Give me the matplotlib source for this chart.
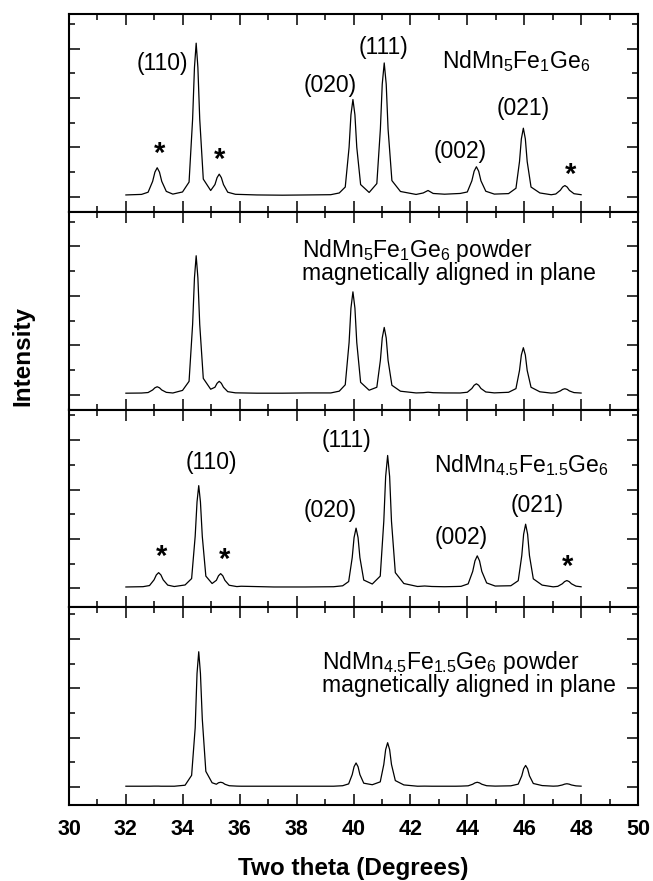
import matplotlib
matplotlib.use("Agg")
import matplotlib.pyplot as plt
from matplotlib.ticker import MultipleLocator

plt.rcParams['font.family'] = ['Liberation Sans', 'DejaVu Sans']
plt.rcParams['mathtext.default'] = 'regular'

# ---------------- data ----------------
# two-theta sample points, panels 1 & 2 (NdMn5Fe1Ge6)
theta_a = [32.00, 32.55, 32.78, 32.94, 33.02, 33.10, 33.18, 33.26, 33.42, 33.65,
           33.99, 34.22, 34.345, 34.41, 34.47, 34.53, 34.595, 34.72,
           34.98, 35.13, 35.205, 35.28, 35.355, 35.43, 35.58, 35.85,
           36.6, 37.5, 38.4, 39.2,
           39.50, 39.71, 39.845, 39.91, 39.98, 40.05, 40.115, 40.25,
           40.55, 40.82, 40.945, 41.01, 41.08, 41.15, 41.215, 41.35, 41.65,
           42.2, 42.45, 42.62, 42.8, 43.2,
           43.75, 44.0, 44.16, 44.24, 44.32, 44.40, 44.48, 44.65, 44.95,
           45.45, 45.71, 45.835, 45.90, 45.97, 46.04, 46.105, 46.24, 46.55,
           46.95, 47.11, 47.27, 47.35, 47.43, 47.51, 47.59, 47.75, 48.00]

# panel 1: NdMn5Fe1Ge6
int_1 = [0.04, 0.051, 0.095, 0.315, 0.502, 0.59, 0.502, 0.315, 0.112, 0.057,
         0.10, 0.30, 1.575, 2.62, 3.11, 2.62, 1.575, 0.36,
         0.13, 0.25, 0.39, 0.46, 0.39, 0.25, 0.095, 0.053,
         0.04, 0.035, 0.04, 0.045,
         0.08, 0.20, 1.005, 1.66, 1.97, 1.66, 1.005, 0.25,
         0.09, 0.27, 1.375, 2.28, 2.71, 2.28, 1.375, 0.33, 0.11,
         0.05, 0.08, 0.13, 0.07, 0.055,
         0.07, 0.10, 0.325, 0.52, 0.61, 0.52, 0.325, 0.115, 0.057,
         0.067, 0.175, 0.715, 1.174, 1.39, 1.174, 0.715, 0.20, 0.08,
         0.044, 0.059, 0.135, 0.2, 0.23, 0.2, 0.135, 0.065, 0.045]

# panel 2: NdMn5Fe1Ge6 powder aligned
int_2 = [0.03, 0.033, 0.043, 0.095, 0.139, 0.16, 0.139, 0.095, 0.047, 0.034,
         0.086, 0.27, 1.42, 2.365, 2.81, 2.365, 1.42, 0.33,
         0.11, 0.15, 0.23, 0.27, 0.23, 0.15, 0.061, 0.037,
         0.03, 0.03, 0.035, 0.035,
         0.071, 0.20, 1.055, 1.75, 2.08, 1.75, 1.055, 0.25,
         0.09, 0.15, 0.695, 1.147, 1.36, 1.147, 0.695, 0.19, 0.07,
         0.035, 0.04, 0.05, 0.04, 0.035,
         0.034, 0.049, 0.125, 0.19, 0.22, 0.19, 0.125, 0.055, 0.036,
         0.048, 0.122, 0.49, 0.803, 0.95, 0.803, 0.49, 0.15, 0.058,
         0.032, 0.039, 0.075, 0.106, 0.12, 0.106, 0.075, 0.042, 0.033]

# two-theta sample points, panels 3 & 4 (NdMn4.5Fe1.5Ge6)
theta_b = [32.00, 32.60, 32.83, 32.99, 33.07, 33.15, 33.23, 33.31, 33.47, 33.70,
           34.08, 34.31, 34.435, 34.50, 34.56, 34.62, 34.685, 34.81,
           35.03, 35.18, 35.255, 35.33, 35.405, 35.48, 35.63, 35.90,
           36.05, 37.2, 38.3, 39.3,
           39.62, 39.83, 39.955, 40.02, 40.09, 40.16, 40.225, 40.36,
           40.66, 40.94, 41.065, 41.13, 41.20, 41.27, 41.335, 41.47, 41.77,
           42.25, 42.5, 42.75, 43.2, 43.6,
           43.78, 44.03, 44.19, 44.27, 44.35, 44.43, 44.51, 44.68, 44.98,
           45.53, 45.79, 45.915, 45.98, 46.05, 46.12, 46.185, 46.32, 46.63,
           47.02, 47.18, 47.34, 47.42, 47.50, 47.58, 47.66, 47.82, 48.00]

# panel 3: NdMn4.5Fe1.5Ge6
int_3 = [0.03, 0.036, 0.059, 0.175, 0.274, 0.32, 0.274, 0.175, 0.068, 0.039,
         0.071, 0.20, 1.055, 1.75, 2.08, 1.75, 1.055, 0.25,
         0.10, 0.165, 0.257, 0.30, 0.257, 0.165, 0.065, 0.038,
         0.045, 0.03, 0.03, 0.035,
         0.054, 0.14, 0.625, 1.03, 1.22, 1.03, 0.625, 0.17,
         0.09, 0.25, 1.36, 2.264, 2.69, 2.264, 1.36, 0.32, 0.10,
         0.04, 0.05, 0.04, 0.035, 0.04,
         0.043, 0.093, 0.345, 0.559, 0.66, 0.559, 0.345, 0.112, 0.049,
         0.055, 0.157, 0.665, 1.097, 1.30, 1.097, 0.665, 0.195, 0.068,
         0.033, 0.043, 0.095, 0.139, 0.16, 0.139, 0.095, 0.047, 0.034]

# panel 4: NdMn4.5Fe1.5Ge6 powder aligned
int_4 = [0.02, 0.02, 0.02, 0.022, 0.022, 0.022, 0.02, 0.02, 0.02, 0.02,
         0.04, 0.24, 1.2, 2.3, 2.74, 2.3, 1.38, 0.32,
         0.09, 0.06, 0.09, 0.10, 0.09, 0.06, 0.03, 0.022,
         0.02, 0.02, 0.02, 0.02,
         0.03, 0.067, 0.255, 0.415, 0.49, 0.415, 0.255, 0.081,
         0.05, 0.108, 0.46, 0.76, 0.90, 0.76, 0.46, 0.134, 0.046,
         0.02, 0.022, 0.02, 0.02, 0.02,
         0.022, 0.028, 0.06, 0.087, 0.10, 0.087, 0.06, 0.03, 0.022,
         0.028, 0.062, 0.23, 0.373, 0.44, 0.373, 0.23, 0.075, 0.033,
         0.021, 0.025, 0.045, 0.062, 0.07, 0.062, 0.045, 0.027, 0.021]

x_ticks = [30, 32, 34, 36, 38, 40, 42, 44, 46, 48, 50]
x_label = "Two theta (Degrees)"
y_label = "Intensity"

peak_labels_1 = ["(110)", "(111)", "(020)", "(002)", "(021)"]
peak_labels_3 = ["(110)", "(111)", "(020)", "(002)", "(021)"]
name_1 = r"NdMn$_5$Fe$_1$Ge$_6$"
name_2 = r"NdMn$_5$Fe$_1$Ge$_6$ powder"
name_3 = r"NdMn$_{4.5}$Fe$_{1.5}$Ge$_6$"
name_4 = r"NdMn$_{4.5}$Fe$_{1.5}$Ge$_6$ powder"
aligned_text = "magnetically aligned in plane"

# ---------------- figure ----------------
W, H = 653, 881
fig = plt.figure(figsize=(W / 100, H / 100), dpi=100)
left, right = 69 / W, 638 / W
top, bottom = 1 - 14 / H, 1 - 805 / H
axes = fig.subplots(4, 1, sharex=True)
fig.subplots_adjust(left=left, right=right, top=top, bottom=bottom, hspace=0)

series = [(theta_a, int_1), (theta_a, int_2), (theta_b, int_3), (theta_b, int_4)]
ylims = [(-0.30, 3.70), (-0.30, 3.70), (-0.38, 3.62), (-0.36, 3.64)]

for ax, (tx, ty), yl in zip(axes, series, ylims):
    ax.plot(tx, ty, color='black', lw=0.9)
    ax.set_xlim(30, 50)
    ax.set_ylim(*yl)
    ax.set_xticks(x_ticks)
    ax.xaxis.set_minor_locator(MultipleLocator(1))
    ax.set_yticks([0, 1, 2, 3])
    ax.yaxis.set_minor_locator(MultipleLocator(0.5))
    ax.set_yticklabels([])
    ax.tick_params(which='both', direction='in', top=True, right=True,
                   width=1.1, color='black')
    ax.tick_params(which='major', length=8)
    ax.tick_params(which='minor', length=4.5)
    for sp in ax.spines.values():
        sp.set_linewidth(1.5)

axes[-1].set_xticklabels([str(v) for v in x_ticks])
axes[-1].tick_params(axis='x', which='major', pad=10, labelsize=15.5)
for lab in axes[-1].get_xticklabels():
    lab.set_fontweight('bold')

fs = 16.5
star_fs = 21

# panel 1 annotations
a1 = axes[0]
for lab, (x, y) in zip(peak_labels_1, [(33.27, 2.70), (41.05, 3.03), (39.17, 2.26),
                                       (43.75, 0.91), (45.98, 1.78)]):
    a1.text(x, y, lab, ha='center', va='center', fontsize=fs)
for x, y in [(33.2, 0.86), (35.3, 0.74), (47.64, 0.45)]:
    a1.text(x, y, "*", ha='center', va='center', fontsize=star_fs, fontweight='bold')
a1.text(45.7, 2.60, name_1, ha='center', va='baseline', fontsize=fs)

# panel 2 annotations
a2 = axes[1]
a2.text(38.2, 2.78, name_2, ha='left', va='baseline', fontsize=fs)
a2.text(38.2, 2.32, aligned_text, ha='left', va='baseline', fontsize=fs)

# panel 3 annotations
a3 = axes[2]
for lab, (x, y) in zip(peak_labels_3, [(35.01, 2.55), (39.77, 3.00), (39.19, 1.57),
                                       (43.8, 1.03), (46.46, 1.68)]):
    a3.text(x, y, lab, ha='center', va='center', fontsize=fs)
for x, y in [(33.26, 0.64), (35.47, 0.58), (47.53, 0.44)]:
    a3.text(x, y, "*", ha='center', va='center', fontsize=star_fs, fontweight='bold')
a3.text(45.92, 2.36, name_3, ha='center', va='baseline', fontsize=fs)

# panel 4 annotations
a4 = axes[3]
a4.text(38.89, 2.40, name_4, ha='left', va='baseline', fontsize=fs)
a4.text(38.89, 1.92, aligned_text, ha='left', va='baseline', fontsize=fs)

fig.text(22.5 / W, 1 - 356 / H, y_label, rotation=90, ha='center', va='center',
         fontsize=17.5, fontweight='bold')
fig.text((left + right) / 2, 1 - 868 / H, x_label, ha='center', va='center',
         fontsize=17.5, fontweight='bold')

fig.savefig("out.png", dpi=100)
